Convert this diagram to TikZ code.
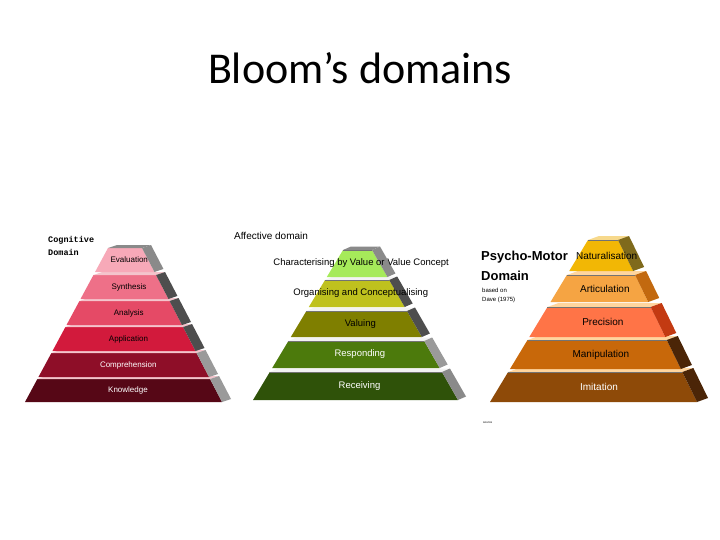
\documentclass[tikz,border=0pt]{standalone}
\usepackage{fontspec}
\setmainfont{Liberation Sans}
\newfontfamily\titlefont{Carlito}
\newfontfamily\pixfont{Liberation Mono}
\usepackage{tikz}
\usetikzlibrary{positioning}
\usepackage{xcolor}

% cognitive
\definecolor{cogA}{HTML}{560716}
\definecolor{cogB}{HTML}{8E0E28}
\definecolor{cogC}{HTML}{D21A3C}
\definecolor{cogD}{HTML}{E54A66}
\definecolor{cogE}{HTML}{EE7088}
\definecolor{cogF}{HTML}{F7A9B8}
\definecolor{cogGap}{HTML}{F4C4CC}
% affective
\definecolor{affA}{HTML}{2F5209}
\definecolor{affB}{HTML}{4C7A0C}
\definecolor{affC}{HTML}{7F7F00}
\definecolor{affD}{HTML}{BFC11E}
\definecolor{affE}{HTML}{A6EA5A}
\definecolor{affGap}{HTML}{F2F2F2}
% psycho-motor
\definecolor{psyA}{HTML}{8E4A08}
\definecolor{psyB}{HTML}{C8680A}
\definecolor{psyC}{HTML}{FF7447}
\definecolor{psyD}{HTML}{F5A443}
\definecolor{psyE}{HTML}{F2B705}
\definecolor{psyAs}{HTML}{4B2507}
\definecolor{psyCs}{HTML}{C33A12}
\definecolor{psyDs}{HTML}{C2690F}
\definecolor{psyEs}{HTML}{7F6A1C}
\definecolor{psyGap}{HTML}{FFD59E}
\definecolor{psyCap}{HTML}{F7D98C}
% sides
\definecolor{gryL}{HTML}{9A9A9A}
\definecolor{gryM}{HTML}{8A8A8A}
\definecolor{gryD}{HTML}{4E4E4E}

\begin{document}
\begin{tikzpicture}[x=1pt, y=-1pt, every node/.style={inner sep=0pt}, rim/.style={black!55, line width=0.4pt}]
\fill[white] (0,0) rectangle (720,540);
\useasboundingbox (0,0) rectangle (720,540);

\node[font=\titlefont\fontsize{44}{48}\selectfont] (title) at (360,68) {Bloom’s domains};

% cognitive pyramid
\def\Yb{402}\def\Yt{248}\def\Lb{25}\def\Lt{108}\def\Rb{222}\def\Rt{142}\def\dx{9}\def\dy{3}
\foreach \yb/\yt/\fc/\sc/\tf/\tc/\name/\lbl in {
    402/379/cogA/gryL/cogGap/white/knowledge/Knowledge,
    377/353/cogB/gryL/cogGap/white/comprehension/Comprehension,
    351/327/cogC/gryD/cogGap/black/application/Application,
    325/301/cogD/gryD/cogGap/black/analysis/Analysis,
    299/275/cogE/gryD/cogGap/black/synthesis/Synthesis,
    272/248/cogF/gryM/gryM/black/evaluation/Evaluation}
{
  \pgfmathsetmacro\lb{\Lb+(\Lt-\Lb)*(\Yb-\yb)/(\Yb-\Yt)}
  \pgfmathsetmacro\lt{\Lb+(\Lt-\Lb)*(\Yb-\yt)/(\Yb-\Yt)}
  \pgfmathsetmacro\rb{\Rb+(\Rt-\Rb)*(\Yb-\yb)/(\Yb-\Yt)}
  \pgfmathsetmacro\rt{\Rb+(\Rt-\Rb)*(\Yb-\yt)/(\Yb-\Yt)}
  \fill[\fc] (\lb,\yb) -- (\rb,\yb) -- (\rt,\yt) -- (\lt,\yt) -- cycle;
  \fill[\tf] (\lt,\yt) -- (\rt,\yt) -- ++(\dx,-\dy) -- ({\lt+\dx},{\yt-\dy}) -- cycle;
  \fill[\sc] (\rb,\yb) -- (\rt,\yt) -- ++(\dx,-\dy) -- ({\rb+\dx},{\yb-\dy}) -- cycle;
  \node[text=\tc, font=\fontsize{8}{9}\selectfont] (\name) at ({(\lb+\rb+\dx)/2},{(\yb+\yt)/2}) {\lbl};
}
\node[font=\pixfont\bfseries\fontsize{8.5}{13}\selectfont, align=left, anchor=north west] (cogtitle) at (48,236) {Cognitive\\Domain};

% affective pyramid
\def\Yb{400}\def\Yt{250}\def\Lb{253}\def\Lt{343}\def\Rb{458}\def\Rt{372}\def\dx{8}\def\dy{3.5}
\foreach \yb/\yt/\fc/\sc/\tf/\tc/\name/\lbl in {
    400/372/affA/gryM/affGap/white/receiving/Receiving,
    368/341/affB/gryL/affGap/white/responding/Responding,
    337/311/affC/gryD/affGap/black/valuing/Valuing,
    307/280/affD/gryD/affGap/black/organising/Organising and Conceptualising,
    277/250/affE/gryM/gryM/black/characterising/Characterising by Value or Value Concept}
{
  \pgfmathsetmacro\lb{\Lb+(\Lt-\Lb)*(\Yb-\yb)/(\Yb-\Yt)}
  \pgfmathsetmacro\lt{\Lb+(\Lt-\Lb)*(\Yb-\yt)/(\Yb-\Yt)}
  \pgfmathsetmacro\rb{\Rb+(\Rt-\Rb)*(\Yb-\yb)/(\Yb-\Yt)}
  \pgfmathsetmacro\rt{\Rb+(\Rt-\Rb)*(\Yb-\yt)/(\Yb-\Yt)}
  \fill[\fc] (\lb,\yb) -- (\rb,\yb) -- (\rt,\yt) -- (\lt,\yt) -- cycle;
  \fill[\tf] (\lt,\yt) -- (\rt,\yt) -- ++(\dx,-\dy) -- ({\lt+\dx},{\yt-\dy}) -- cycle;
  \fill[\sc] (\rb,\yb) -- (\rt,\yt) -- ++(\dx,-\dy) -- ({\rb+\dx},{\yb-\dy}) -- cycle;
  \draw[rim] (\lt,\yt) -- (\rt,\yt);
  \node[text=\tc, font=\fontsize{9.5}{10}\selectfont] (\name) at ({(\lb+\rb+\dx)/2},{(\yb+\yt)/2}) {\lbl};
}
\node[font=\fontsize{10}{12}\selectfont, anchor=west] (afftitle) at (234,236) {Affective domain};

% psycho-motor pyramid
\def\Yb{402}\def\Yt{240}\def\Lb{490}\def\Lt{588}\def\Rb{697}\def\Rt{618}\def\dx{11}\def\dy{4}
\foreach \yb/\yt/\fc/\sc/\tf/\tc/\name/\lbl in {
    402/372/psyA/psyAs/psyGap/white/imitation/Imitation,
    369/340/psyB/psyAs/psyGap/black/manipulation/Manipulation,
    337/307/psyC/psyCs/psyGap/black/precision/Precision,
    302/275/psyD/psyDs/psyGap/black/articulation/Articulation,
    271/240/psyE/psyEs/psyCap/black/naturalisation/Naturalisation}
{
  \pgfmathsetmacro\lb{\Lb+(\Lt-\Lb)*(\Yb-\yb)/(\Yb-\Yt)}
  \pgfmathsetmacro\lt{\Lb+(\Lt-\Lb)*(\Yb-\yt)/(\Yb-\Yt)}
  \pgfmathsetmacro\rb{\Rb+(\Rt-\Rb)*(\Yb-\yb)/(\Yb-\Yt)}
  \pgfmathsetmacro\rt{\Rb+(\Rt-\Rb)*(\Yb-\yt)/(\Yb-\Yt)}
  \fill[\fc] (\lb,\yb) -- (\rb,\yb) -- (\rt,\yt) -- (\lt,\yt) -- cycle;
  \fill[\tf] (\lt,\yt) -- (\rt,\yt) -- ++(\dx,-\dy) -- ({\lt+\dx},{\yt-\dy}) -- cycle;
  \fill[\sc] (\rb,\yb) -- (\rt,\yt) -- ++(\dx,-\dy) -- ({\rb+\dx},{\yb-\dy}) -- cycle;
  \draw[rim] (\lt,\yt) -- (\rt,\yt);
  \node[text=\tc, font=\fontsize{10}{11}\selectfont] (\name) at ({(\lb+\rb+\dx)/2},{(\yb+\yt)/2}) {\lbl};
}
\node[font=\bfseries\fontsize{13}{20}\selectfont, align=left, anchor=north west] (psytitle) at (481,251) {Psycho-Motor\\Domain};
\node[font=\fontsize{6}{9}\selectfont, align=left, anchor=north west] (psysource) at (482,288) {based on\\Dave (1975)};
\node[font=\fontsize{3}{4}\selectfont, anchor=west] (credit) at (483,423) {source};
\end{tikzpicture}
\end{document}
